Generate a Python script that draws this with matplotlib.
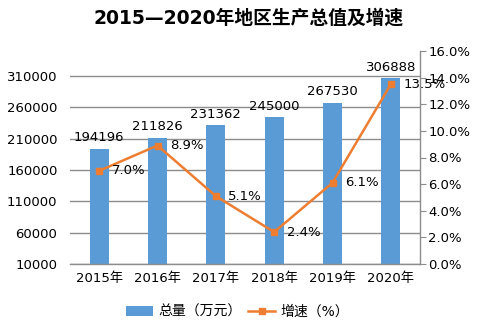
import matplotlib
matplotlib.use("Agg")
import matplotlib.pyplot as plt
import numpy as np

plt.rcParams['font.family'] = ['DejaVu Sans', 'Noto Sans CJK SC']

years = ["2015年", "2016年", "2017年", "2018年", "2019年", "2020年"]
totals = [194196, 211826, 231362, 245000, 267530, 306888]
growth = [7.0, 8.9, 5.1, 2.4, 6.1, 13.5]
left_ticks = [10000, 60000, 110000, 160000, 210000, 260000, 310000]
right_ticks = [0, 2, 4, 6, 8, 10, 12, 14, 16]

BLUE = "#5B9BD5"
ORANGE = "#ED7D31"
GRID = "#8C8C8C"
FS = 9.5

fig = plt.figure(figsize=(4.8, 3.33), dpi=100)
ax = fig.add_axes([70/480, 1-264/333, 350/480, 213/333])
x = np.arange(len(years))

bars = ax.bar(x, totals, width=0.33, color=BLUE, zorder=2, label="总量（万元）")
ax.set_ylim(10000, 350000)
ax.set_xlim(-0.5, len(years) - 0.5)
ax.set_yticks(left_ticks)
ax.set_yticklabels([str(v) for v in left_ticks], fontsize=FS)
ax.tick_params(axis='y', length=0, pad=9)
ax.set_xticks(x)
ax.set_xticklabels(years, fontsize=FS)
ax.tick_params(axis='x', length=0, pad=6)
ax.grid(axis='y', color=GRID, linewidth=1, zorder=0)
for s in ['left', 'top', 'right']:
    ax.spines[s].set_visible(False)
ax.spines['bottom'].set_color(GRID)
ax.spines['bottom'].set_linewidth(1)

for xi, v in zip(x, totals):
    ax.annotate(str(v), (xi, v), xytext=(0, 3), textcoords='offset points',
                ha='center', va='bottom', fontsize=FS, zorder=5)

ax2 = ax.twinx()
ax2.set_ylim(0, 16)
ax2.set_yticks(right_ticks)
ax2.set_yticklabels([f"{v:.1f}%" for v in right_ticks], fontsize=FS)
ax2.tick_params(axis='y', length=4, color=GRID, pad=2)
for s in ['left', 'top', 'bottom']:
    ax2.spines[s].set_visible(False)
ax2.spines['right'].set_color(GRID)
ax2.spines['right'].set_linewidth(1)

line, = ax2.plot(x, growth, color=ORANGE, linewidth=1.8, marker='s', markersize=5,
                 label="增速（%）", zorder=4)
for xi, g in zip(x, growth):
    ax2.annotate(f"{g:.1f}%", (xi, g), xytext=(9, 0), textcoords='offset points',
                 ha='left', va='center', fontsize=FS, zorder=5)

fig.text(0.517, 1-18/333, "2015—2020年地区生产总值及增速", ha='center', va='center',
         fontsize=13.5, fontweight='bold')

fig.legend(handles=[bars, line], labels=["总量（万元）", "增速（%）"],
           loc='center', bbox_to_anchor=(0.495, 1-312/333), ncol=2, frameon=False,
           fontsize=10, handlelength=1.9, handletextpad=0.4, columnspacing=0.5)

fig.savefig("out.png", dpi=100)
